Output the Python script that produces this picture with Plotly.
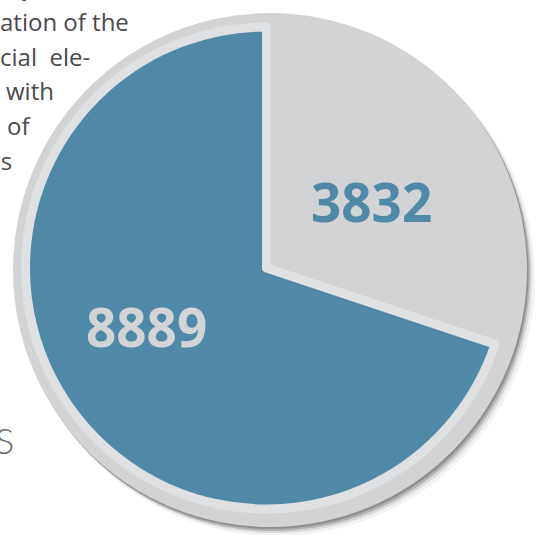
import plotly.graph_objects as go

# Slice data (clockwise from 12 o'clock)
slice_names = ["Other", "Main"]
slice_values = [3832, 8889]
slice_colors = ["#d1d3d5", "#5089a6"]
slice_edge = ["#d1d3d5", "#dfe0e2"]
label_colors = ["#5089a6", "#d3d4d6"]

# Body copy wrapped around the pie
text_lines = ["y", "ation of the", "cial  ele-", "with", "of", "us"]
side_heading = "S"

W, H = 538, 535


def px(x):
    return x / W


def py(y):
    return 1 - y / H


# Pie geometry in pixels
cx, cy, r = 266.5, 268.0, 241.0
ring_w = 9

fig = go.Figure()
fig.add_trace(go.Pie(
    labels=slice_names,
    values=slice_values,
    sort=False,
    direction="clockwise",
    rotation=0,
    textinfo="none",
    hoverinfo="skip",
    showlegend=False,
    marker=dict(colors=slice_colors, line=dict(color=slice_edge, width=ring_w)),
    domain=dict(x=[px(cx - r), px(cx + r)], y=[py(cy + r), py(cy - r)]),
))

shapes = []
# soft drop shadow to the lower right
ocx, ocy, orad = 270.0, 270.0, 257.0
for dx, dy, dr, a in [(7, 8, 1, 0.06), (5, 6, 0, 0.12), (3, 4, 0, 0.22), (1.5, 2, 0, 0.25)]:
    shapes.append(dict(
        type="circle", xref="paper", yref="paper", layer="below",
        x0=px(ocx - orad - dr + dx), x1=px(ocx + orad + dr + dx),
        y0=py(ocy + orad + dr + dy), y1=py(ocy - orad - dr + dy),
        fillcolor=f"rgba(40,40,42,{a})", line=dict(width=0),
    ))
# outer grey rim
shapes.append(dict(
    type="circle", xref="paper", yref="paper", layer="below",
    x0=px(ocx - orad), x1=px(ocx + orad),
    y0=py(ocy + orad), y1=py(ocy - orad),
    fillcolor="#d2d3d5", line=dict(width=0),
))

annotations = []
# value labels inside the slices
label_pos = [(371, 201), (146.5, 326)]
for val, col, (lx, ly) in zip(slice_values, label_colors, label_pos):
    annotations.append(dict(
        x=px(lx), y=py(ly), xref="paper", yref="paper",
        text=f"{val}", showarrow=False, xanchor="center", yanchor="middle",
        font=dict(family="Open Sans", size=53, color=col, weight="bold"),
    ))

# wrapped paragraph lines (right ends follow the pie outline)
line_right = [37, 131, 92, 56, 33, 14]
line_mid = [-15, 21, 56, 90, 125, 160]
for t, xr, ym in zip(text_lines, line_right, line_mid):
    annotations.append(dict(
        x=px(xr), y=py(ym), xref="paper", yref="paper",
        text=t, showarrow=False, xanchor="right", yanchor="middle",
        font=dict(family="Open Sans", size=24, color="#4a4a4c"),
    ))

annotations.append(dict(
    x=px(16), y=py(440), xref="paper", yref="paper",
    text=side_heading, showarrow=False, xanchor="right", yanchor="middle",
    font=dict(family="Lato", size=36, color="#6a6b6e", weight=300),
))

fig.update_layout(
    width=W, height=H,
    margin=dict(l=0, r=0, t=0, b=0),
    paper_bgcolor="white", plot_bgcolor="white",
    shapes=shapes, annotations=annotations,
)

fig.write_html("out.html", config={"displayModeBar": False})
